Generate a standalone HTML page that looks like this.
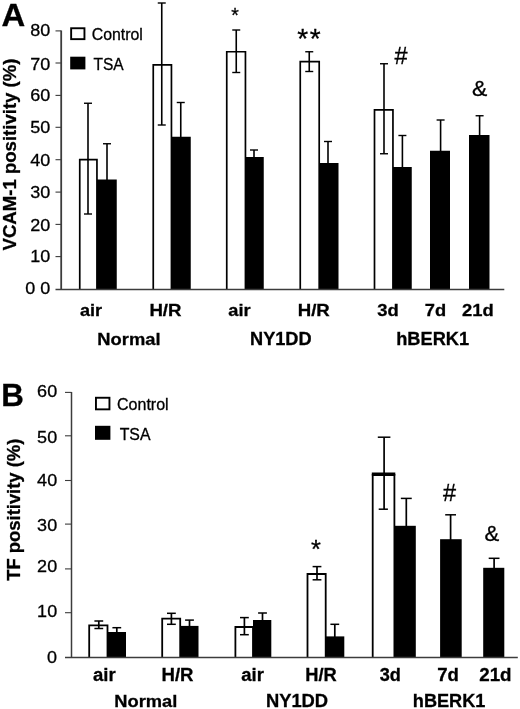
<!DOCTYPE html>
<html><head><meta charset="utf-8"><style>
html,body{margin:0;padding:0;background:#fff;}
svg{display:block;font-family:"Liberation Sans",sans-serif;will-change:transform;}
</style></head><body>
<svg width="520" height="709" viewBox="0 0 520 709">
<rect width="520" height="709" fill="#fff"/>
<text transform="matrix(0.18020 0 0 0.17000 30.319 36.165)" font-size="100" stroke="#000" stroke-width="0.3" vector-effect="non-scaling-stroke" font-weight="normal" fill="#000">80</text>
<text transform="matrix(0.18020 0 0 0.17000 30.319 69.665)" font-size="100" stroke="#000" stroke-width="0.3" vector-effect="non-scaling-stroke" font-weight="normal" fill="#000">70</text>
<text transform="matrix(0.18020 0 0 0.17000 30.319 100.665)" font-size="100" stroke="#000" stroke-width="0.3" vector-effect="non-scaling-stroke" font-weight="normal" fill="#000">60</text>
<text transform="matrix(0.18020 0 0 0.17000 30.319 132.965)" font-size="100" stroke="#000" stroke-width="0.3" vector-effect="non-scaling-stroke" font-weight="normal" fill="#000">50</text>
<text transform="matrix(0.18020 0 0 0.17000 30.319 166.165)" font-size="100" stroke="#000" stroke-width="0.3" vector-effect="non-scaling-stroke" font-weight="normal" fill="#000">40</text>
<text transform="matrix(0.18020 0 0 0.17000 30.319 198.215)" font-size="100" stroke="#000" stroke-width="0.3" vector-effect="non-scaling-stroke" font-weight="normal" fill="#000">30</text>
<text transform="matrix(0.18020 0 0 0.17000 30.319 231.165)" font-size="100" stroke="#000" stroke-width="0.3" vector-effect="non-scaling-stroke" font-weight="normal" fill="#000">20</text>
<text transform="matrix(0.18020 0 0 0.17000 30.319 262.265)" font-size="100" stroke="#000" stroke-width="0.3" vector-effect="non-scaling-stroke" font-weight="normal" fill="#000">10</text>
<text transform="matrix(0.18020 0 0 0.17000 25.273 293.865)" font-size="100" stroke="#000" stroke-width="0.3" vector-effect="non-scaling-stroke" font-weight="normal" fill="#000">0 0</text>
<path d="M79.75 289.80 V159.55 H96.95 V289.80" fill="#fff" stroke="#000" stroke-width="1.7"/>
<rect x="97.00" y="179.50" width="19.75" height="110.30" fill="#000"/>
<line x1="88.00" y1="103.25" x2="88.00" y2="214.00" stroke="#000" stroke-width="1.6"/>
<line x1="84.00" y1="103.25" x2="92.00" y2="103.25" stroke="#000" stroke-width="1.4"/>
<line x1="84.00" y1="214.00" x2="92.00" y2="214.00" stroke="#000" stroke-width="1.4"/>
<line x1="107.00" y1="143.75" x2="107.00" y2="180.50" stroke="#000" stroke-width="1.6"/>
<line x1="103.00" y1="143.75" x2="111.00" y2="143.75" stroke="#000" stroke-width="1.4"/>
<path d="M153.25 289.80 V64.85 H171.45 V289.80" fill="#fff" stroke="#000" stroke-width="1.7"/>
<rect x="171.50" y="136.75" width="19.25" height="153.05" fill="#000"/>
<line x1="161.75" y1="3.00" x2="161.75" y2="125.00" stroke="#000" stroke-width="1.6"/>
<line x1="157.75" y1="3.00" x2="165.75" y2="3.00" stroke="#000" stroke-width="1.4"/>
<line x1="157.75" y1="125.00" x2="165.75" y2="125.00" stroke="#000" stroke-width="1.4"/>
<line x1="180.75" y1="102.50" x2="180.75" y2="137.75" stroke="#000" stroke-width="1.6"/>
<line x1="176.75" y1="102.50" x2="184.75" y2="102.50" stroke="#000" stroke-width="1.4"/>
<path d="M226.75 289.80 V51.75 H245.45 V289.80" fill="#fff" stroke="#000" stroke-width="1.7"/>
<rect x="245.50" y="157.00" width="18.25" height="132.80" fill="#000"/>
<line x1="236.25" y1="30.00" x2="236.25" y2="72.50" stroke="#000" stroke-width="1.6"/>
<line x1="232.25" y1="30.00" x2="240.25" y2="30.00" stroke="#000" stroke-width="1.4"/>
<line x1="232.25" y1="72.50" x2="240.25" y2="72.50" stroke="#000" stroke-width="1.4"/>
<line x1="254.00" y1="150.00" x2="254.00" y2="158.00" stroke="#000" stroke-width="1.6"/>
<line x1="250.00" y1="150.00" x2="258.00" y2="150.00" stroke="#000" stroke-width="1.4"/>
<path d="M300.25 289.80 V61.60 H319.20 V289.80" fill="#fff" stroke="#000" stroke-width="1.7"/>
<rect x="319.25" y="163.00" width="19.25" height="126.80" fill="#000"/>
<line x1="309.25" y1="51.75" x2="309.25" y2="71.50" stroke="#000" stroke-width="1.6"/>
<line x1="305.25" y1="51.75" x2="313.25" y2="51.75" stroke="#000" stroke-width="1.4"/>
<line x1="305.25" y1="71.50" x2="313.25" y2="71.50" stroke="#000" stroke-width="1.4"/>
<line x1="328.00" y1="141.50" x2="328.00" y2="164.00" stroke="#000" stroke-width="1.6"/>
<line x1="324.00" y1="141.50" x2="332.00" y2="141.50" stroke="#000" stroke-width="1.4"/>
<path d="M374.50 289.80 V109.85 H392.95 V289.80" fill="#fff" stroke="#000" stroke-width="1.7"/>
<rect x="393.00" y="167.00" width="18.75" height="122.80" fill="#000"/>
<line x1="384.00" y1="63.75" x2="384.00" y2="153.75" stroke="#000" stroke-width="1.6"/>
<line x1="380.00" y1="63.75" x2="388.00" y2="63.75" stroke="#000" stroke-width="1.4"/>
<line x1="380.00" y1="153.75" x2="388.00" y2="153.75" stroke="#000" stroke-width="1.4"/>
<line x1="402.40" y1="135.50" x2="402.40" y2="168.00" stroke="#000" stroke-width="1.6"/>
<line x1="398.40" y1="135.50" x2="406.40" y2="135.50" stroke="#000" stroke-width="1.4"/>
<rect x="430.00" y="150.75" width="20.00" height="139.05" fill="#000"/>
<line x1="440.60" y1="120.00" x2="440.60" y2="151.75" stroke="#000" stroke-width="1.6"/>
<line x1="436.60" y1="120.00" x2="444.60" y2="120.00" stroke="#000" stroke-width="1.4"/>
<rect x="469.00" y="135.00" width="20.50" height="154.80" fill="#000"/>
<line x1="479.60" y1="115.75" x2="479.60" y2="136.00" stroke="#000" stroke-width="1.6"/>
<line x1="475.60" y1="115.75" x2="483.60" y2="115.75" stroke="#000" stroke-width="1.4"/>
<line x1="61.20" y1="30.40" x2="61.20" y2="290.10" stroke="#3c3c3c" stroke-width="1.8"/>
<line x1="55.50" y1="289.60" x2="504.30" y2="289.60" stroke="#3c3c3c" stroke-width="1.5"/>
<line x1="55.50" y1="30.90" x2="61.20" y2="30.90" stroke="#3c3c3c" stroke-width="1.1"/>
<line x1="55.50" y1="63.00" x2="61.20" y2="63.00" stroke="#3c3c3c" stroke-width="1.1"/>
<line x1="55.50" y1="95.40" x2="61.20" y2="95.40" stroke="#3c3c3c" stroke-width="1.1"/>
<line x1="55.50" y1="127.30" x2="61.20" y2="127.30" stroke="#3c3c3c" stroke-width="1.1"/>
<line x1="55.50" y1="159.70" x2="61.20" y2="159.70" stroke="#3c3c3c" stroke-width="1.1"/>
<line x1="55.50" y1="192.10" x2="61.20" y2="192.10" stroke="#3c3c3c" stroke-width="1.1"/>
<line x1="55.50" y1="224.40" x2="61.20" y2="224.40" stroke="#3c3c3c" stroke-width="1.1"/>
<line x1="55.50" y1="256.60" x2="61.20" y2="256.60" stroke="#3c3c3c" stroke-width="1.1"/>
<rect x="71.15" y="28.25" width="13.30" height="10.90" fill="#fff" stroke="#000" stroke-width="1.9"/>
<rect x="70.20" y="56.70" width="15.20" height="12.70" fill="#000"/>
<text transform="matrix(0.15878 0 0 0.16327 91.706 40.237)" font-size="100" stroke="#000" stroke-width="0.3" vector-effect="non-scaling-stroke" font-weight="normal" fill="#000">Control</text>
<text transform="matrix(0.15532 0 0 0.16056 93.489 69.539)" font-size="100" stroke="#000" stroke-width="0.3" vector-effect="non-scaling-stroke" font-weight="normal" fill="#000">TSA</text>
<text transform="matrix(0.32836 0 0 0.31594 1.479 25.700)" font-size="100" stroke="#000" stroke-width="0.3" vector-effect="non-scaling-stroke" font-weight="bold" fill="#000">A</text>
<text transform="matrix(0.00000 -0.18599 0.17681 0.00000 15.500 250.486)" font-size="100" stroke="#000" stroke-width="0.3" vector-effect="non-scaling-stroke" font-weight="bold">VCAM-1 positivity (%)</text>
<text transform="matrix(0.18051 0 0 0.17143 80.058 316.429)" font-size="100" stroke="#000" stroke-width="0.3" vector-effect="non-scaling-stroke" font-weight="bold" fill="#000">air</text>
<text transform="matrix(0.18654 0 0 0.16913 149.387 316.262)" font-size="100" stroke="#000" stroke-width="0.3" vector-effect="non-scaling-stroke" font-weight="bold" fill="#000">H/R</text>
<text transform="matrix(0.18220 0 0 0.17143 228.353 316.429)" font-size="100" stroke="#000" stroke-width="0.3" vector-effect="non-scaling-stroke" font-weight="bold" fill="#000">air</text>
<text transform="matrix(0.18654 0 0 0.16913 297.687 316.262)" font-size="100" stroke="#000" stroke-width="0.3" vector-effect="non-scaling-stroke" font-weight="bold" fill="#000">H/R</text>
<text transform="matrix(0.18419 0 0 0.17143 377.140 316.429)" font-size="100" stroke="#000" stroke-width="0.3" vector-effect="non-scaling-stroke" font-weight="bold" fill="#000">3d</text>
<text transform="matrix(0.18294 0 0 0.17143 424.777 316.429)" font-size="100" stroke="#000" stroke-width="0.3" vector-effect="non-scaling-stroke" font-weight="bold" fill="#000">7d</text>
<text transform="matrix(0.18395 0 0 0.17143 461.956 316.429)" font-size="100" stroke="#000" stroke-width="0.3" vector-effect="non-scaling-stroke" font-weight="bold" fill="#000">21d</text>
<text transform="matrix(0.18369 0 0 0.17415 97.306 344.726)" font-size="100" stroke="#000" stroke-width="0.3" vector-effect="non-scaling-stroke" font-weight="bold" fill="#000">Normal</text>
<text transform="matrix(0.18174 0 0 0.18551 250.019 344.900)" font-size="100" stroke="#000" stroke-width="0.3" vector-effect="non-scaling-stroke" font-weight="bold" fill="#000">NY1DD</text>
<text transform="matrix(0.18233 0 0 0.17655 396.224 344.900)" font-size="100" stroke="#000" stroke-width="0.3" vector-effect="non-scaling-stroke" font-weight="bold" fill="#000">hBERK1</text>
<text transform="matrix(0.19429 0 0 0.20571 231.211 22.494)" font-size="100" stroke="#000" stroke-width="0.3" vector-effect="non-scaling-stroke" font-weight="normal" fill="#000">*</text>
<text transform="matrix(0.28000 0 0 0.27429 297.140 48.126)" font-size="100" stroke="#000" stroke-width="0.3" vector-effect="non-scaling-stroke" font-weight="normal" fill="#000">*</text>
<text transform="matrix(0.28000 0 0 0.27429 309.640 48.126)" font-size="100" stroke="#000" stroke-width="0.3" vector-effect="non-scaling-stroke" font-weight="normal" fill="#000">*</text>
<text transform="matrix(0.23486 0 0 0.23358 394.383 63.700)" font-size="100" stroke="#000" stroke-width="0.3" vector-effect="non-scaling-stroke" font-weight="normal" fill="#000">#</text>
<text transform="matrix(0.22927 0 0 0.21429 471.898 96.086)" font-size="100" stroke="#000" stroke-width="0.3" vector-effect="non-scaling-stroke" font-weight="normal" fill="#000">&amp;</text>
<text transform="matrix(0.18020 0 0 0.17000 37.119 396.865)" font-size="100" stroke="#000" stroke-width="0.3" vector-effect="non-scaling-stroke" font-weight="normal" fill="#000">60</text>
<text transform="matrix(0.18020 0 0 0.17000 37.119 442.865)" font-size="100" stroke="#000" stroke-width="0.3" vector-effect="non-scaling-stroke" font-weight="normal" fill="#000">50</text>
<text transform="matrix(0.18020 0 0 0.17000 37.119 486.165)" font-size="100" stroke="#000" stroke-width="0.3" vector-effect="non-scaling-stroke" font-weight="normal" fill="#000">40</text>
<text transform="matrix(0.18020 0 0 0.17000 37.119 530.765)" font-size="100" stroke="#000" stroke-width="0.3" vector-effect="non-scaling-stroke" font-weight="normal" fill="#000">30</text>
<text transform="matrix(0.18020 0 0 0.17000 37.119 571.965)" font-size="100" stroke="#000" stroke-width="0.3" vector-effect="non-scaling-stroke" font-weight="normal" fill="#000">20</text>
<text transform="matrix(0.18020 0 0 0.17000 37.119 616.565)" font-size="100" stroke="#000" stroke-width="0.3" vector-effect="non-scaling-stroke" font-weight="normal" fill="#000">10</text>
<text transform="matrix(0.18020 0 0 0.17000 47.120 663.365)" font-size="100" stroke="#000" stroke-width="0.3" vector-effect="non-scaling-stroke" font-weight="normal" fill="#000">0</text>
<path d="M89.20 657.60 V625.30 H107.50 V657.60" fill="#fff" stroke="#000" stroke-width="1.8"/>
<rect x="107.50" y="632.00" width="18.50" height="25.40" fill="#000"/>
<line x1="98.80" y1="621.00" x2="98.80" y2="628.50" stroke="#000" stroke-width="1.7"/>
<line x1="94.40" y1="621.00" x2="103.20" y2="621.00" stroke="#000" stroke-width="1.5"/>
<line x1="94.40" y1="628.50" x2="103.20" y2="628.50" stroke="#000" stroke-width="1.5"/>
<line x1="116.80" y1="627.70" x2="116.80" y2="633.00" stroke="#000" stroke-width="1.7"/>
<line x1="112.40" y1="627.70" x2="121.20" y2="627.70" stroke="#000" stroke-width="1.5"/>
<path d="M162.20 657.60 V618.70 H180.20 V657.60" fill="#fff" stroke="#000" stroke-width="1.8"/>
<rect x="180.20" y="625.90" width="18.30" height="31.50" fill="#000"/>
<line x1="171.40" y1="613.30" x2="171.40" y2="624.30" stroke="#000" stroke-width="1.7"/>
<line x1="167.00" y1="613.30" x2="175.80" y2="613.30" stroke="#000" stroke-width="1.5"/>
<line x1="167.00" y1="624.30" x2="175.80" y2="624.30" stroke="#000" stroke-width="1.5"/>
<line x1="189.50" y1="620.10" x2="189.50" y2="626.90" stroke="#000" stroke-width="1.7"/>
<line x1="185.10" y1="620.10" x2="193.90" y2="620.10" stroke="#000" stroke-width="1.5"/>
<path d="M235.40 657.60 V627.00 H253.00 V657.60" fill="#fff" stroke="#000" stroke-width="1.8"/>
<rect x="253.00" y="620.00" width="18.30" height="37.40" fill="#000"/>
<line x1="244.40" y1="617.60" x2="244.40" y2="634.70" stroke="#000" stroke-width="1.7"/>
<line x1="240.00" y1="617.60" x2="248.80" y2="617.60" stroke="#000" stroke-width="1.5"/>
<line x1="240.00" y1="634.70" x2="248.80" y2="634.70" stroke="#000" stroke-width="1.5"/>
<line x1="262.50" y1="613.00" x2="262.50" y2="621.00" stroke="#000" stroke-width="1.7"/>
<line x1="258.10" y1="613.00" x2="266.90" y2="613.00" stroke="#000" stroke-width="1.5"/>
<path d="M307.50 657.60 V574.00 H325.70 V657.60" fill="#fff" stroke="#000" stroke-width="1.8"/>
<rect x="325.70" y="636.40" width="18.60" height="21.00" fill="#000"/>
<line x1="317.00" y1="566.60" x2="317.00" y2="579.80" stroke="#000" stroke-width="1.7"/>
<line x1="312.60" y1="566.60" x2="321.40" y2="566.60" stroke="#000" stroke-width="1.5"/>
<line x1="312.60" y1="579.80" x2="321.40" y2="579.80" stroke="#000" stroke-width="1.5"/>
<line x1="334.80" y1="624.30" x2="334.80" y2="637.40" stroke="#000" stroke-width="1.7"/>
<line x1="330.40" y1="624.30" x2="339.20" y2="624.30" stroke="#000" stroke-width="1.5"/>
<path d="M372.70 657.60 V475.00 H394.40 V657.60" fill="#fff" stroke="#000" stroke-width="1.8"/>
<rect x="394.40" y="525.80" width="21.40" height="131.60" fill="#000"/>
<line x1="384.10" y1="437.20" x2="384.10" y2="509.20" stroke="#000" stroke-width="1.7"/>
<line x1="377.80" y1="437.20" x2="390.40" y2="437.20" stroke="#000" stroke-width="1.5"/>
<line x1="378.70" y1="509.20" x2="387.90" y2="509.20" stroke="#000" stroke-width="1.5"/>
<line x1="406.30" y1="498.40" x2="406.30" y2="526.80" stroke="#000" stroke-width="1.7"/>
<line x1="400.85" y1="498.40" x2="411.75" y2="498.40" stroke="#000" stroke-width="1.5"/>
<rect x="371.80" y="472.50" width="23.50" height="3.10" fill="#000"/>
<rect x="440.10" y="539.20" width="21.60" height="118.20" fill="#000"/>
<line x1="450.60" y1="514.80" x2="450.60" y2="540.20" stroke="#000" stroke-width="1.7"/>
<line x1="445.20" y1="514.80" x2="456.00" y2="514.80" stroke="#000" stroke-width="1.5"/>
<rect x="483.20" y="567.80" width="21.10" height="89.60" fill="#000"/>
<line x1="494.10" y1="558.30" x2="494.10" y2="568.80" stroke="#000" stroke-width="1.7"/>
<line x1="488.70" y1="558.30" x2="499.50" y2="558.30" stroke="#000" stroke-width="1.5"/>
<line x1="71.50" y1="391.90" x2="71.50" y2="657.60" stroke="#3c3c3c" stroke-width="1.5"/>
<line x1="65.00" y1="657.40" x2="517.80" y2="657.40" stroke="#3c3c3c" stroke-width="1.5"/>
<line x1="65.00" y1="392.40" x2="71.50" y2="392.40" stroke="#3c3c3c" stroke-width="1.1"/>
<line x1="65.00" y1="435.80" x2="71.50" y2="435.80" stroke="#3c3c3c" stroke-width="1.1"/>
<line x1="65.00" y1="480.50" x2="71.50" y2="480.50" stroke="#3c3c3c" stroke-width="1.1"/>
<line x1="65.00" y1="524.10" x2="71.50" y2="524.10" stroke="#3c3c3c" stroke-width="1.1"/>
<line x1="65.00" y1="568.90" x2="71.50" y2="568.90" stroke="#3c3c3c" stroke-width="1.1"/>
<line x1="65.00" y1="612.70" x2="71.50" y2="612.70" stroke="#3c3c3c" stroke-width="1.1"/>
<rect x="95.95" y="397.75" width="13.50" height="11.60" fill="#fff" stroke="#000" stroke-width="1.9"/>
<rect x="95.00" y="425.80" width="15.40" height="14.00" fill="#000"/>
<text transform="matrix(0.16039 0 0 0.16599 116.998 410.234)" font-size="100" stroke="#000" stroke-width="0.3" vector-effect="non-scaling-stroke" font-weight="normal" fill="#000">Control</text>
<text transform="matrix(0.15844 0 0 0.17324 119.683 439.727)" font-size="100" stroke="#000" stroke-width="0.3" vector-effect="non-scaling-stroke" font-weight="normal" fill="#000">TSA</text>
<text transform="matrix(0.31311 0 0 0.30725 1.165 405.800)" font-size="100" stroke="#000" stroke-width="0.3" vector-effect="non-scaling-stroke" font-weight="bold" fill="#000">B</text>
<text transform="matrix(0.00000 -0.18421 0.17826 0.00000 19.500 580.784)" font-size="100" stroke="#000" stroke-width="0.3" vector-effect="non-scaling-stroke" font-weight="bold">TF positivity (%)</text>
<text transform="matrix(0.18559 0 0 0.17687 93.043 681.423)" font-size="100" stroke="#000" stroke-width="0.3" vector-effect="non-scaling-stroke" font-weight="bold" fill="#000">air</text>
<text transform="matrix(0.18593 0 0 0.17450 161.491 681.251)" font-size="100" stroke="#000" stroke-width="0.3" vector-effect="non-scaling-stroke" font-weight="bold" fill="#000">H/R</text>
<text transform="matrix(0.18475 0 0 0.17687 241.246 681.423)" font-size="100" stroke="#000" stroke-width="0.3" vector-effect="non-scaling-stroke" font-weight="bold" fill="#000">air</text>
<text transform="matrix(0.18287 0 0 0.17450 305.311 681.251)" font-size="100" stroke="#000" stroke-width="0.3" vector-effect="non-scaling-stroke" font-weight="bold" fill="#000">H/R</text>
<text transform="matrix(0.18140 0 0 0.17687 379.647 681.423)" font-size="100" stroke="#000" stroke-width="0.3" vector-effect="non-scaling-stroke" font-weight="bold" fill="#000">3d</text>
<text transform="matrix(0.18578 0 0 0.17687 437.264 681.423)" font-size="100" stroke="#000" stroke-width="0.3" vector-effect="non-scaling-stroke" font-weight="bold" fill="#000">7d</text>
<text transform="matrix(0.18765 0 0 0.17687 479.243 681.423)" font-size="100" stroke="#000" stroke-width="0.3" vector-effect="non-scaling-stroke" font-weight="bold" fill="#000">21d</text>
<text transform="matrix(0.18308 0 0 0.17415 114.310 706.826)" font-size="100" stroke="#000" stroke-width="0.3" vector-effect="non-scaling-stroke" font-weight="bold" fill="#000">Normal</text>
<text transform="matrix(0.18356 0 0 0.18551 265.907 707.000)" font-size="100" stroke="#000" stroke-width="0.3" vector-effect="non-scaling-stroke" font-weight="bold" fill="#000">NY1DD</text>
<text transform="matrix(0.18131 0 0 0.17655 412.831 707.000)" font-size="100" stroke="#000" stroke-width="0.3" vector-effect="non-scaling-stroke" font-weight="bold" fill="#000">hBERK1</text>
<text transform="matrix(0.25429 0 0 0.25714 311.091 558.043)" font-size="100" stroke="#000" stroke-width="0.3" vector-effect="non-scaling-stroke" font-weight="normal" fill="#000">*</text>
<text transform="matrix(0.23486 0 0 0.23066 443.083 500.600)" font-size="100" stroke="#000" stroke-width="0.3" vector-effect="non-scaling-stroke" font-weight="normal" fill="#000">#</text>
<text transform="matrix(0.22114 0 0 0.22429 484.426 541.276)" font-size="100" stroke="#000" stroke-width="0.3" vector-effect="non-scaling-stroke" font-weight="normal" fill="#000">&amp;</text>
</svg></body></html>
